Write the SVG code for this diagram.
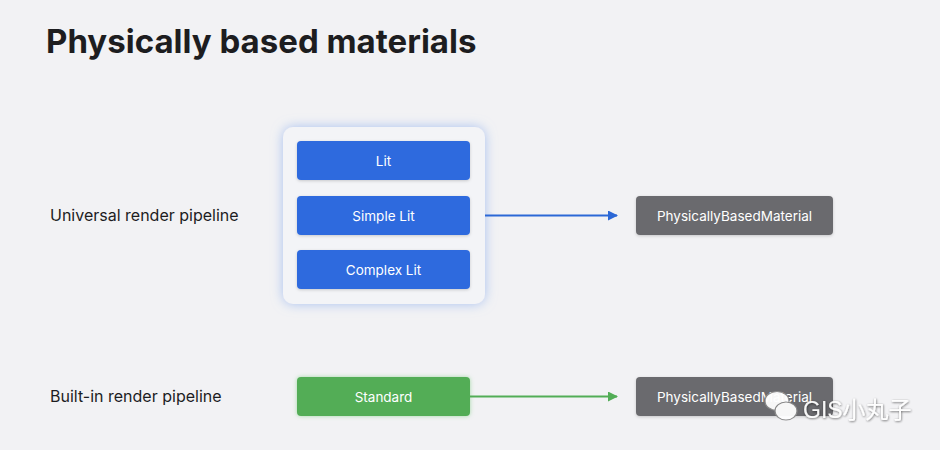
<svg xmlns="http://www.w3.org/2000/svg" width="940" height="450" viewBox="0 0 940 450">
<defs>
<style>
.t{font-family:Inter,"Liberation Sans",sans-serif}
.lbl{font-family:Inter,"Liberation Sans",sans-serif;font-size:16px;fill:#1d1d1f}
.btxt{font-family:Inter,"Liberation Sans",sans-serif;font-size:13.5px;fill:#ffffff;text-anchor:middle}
.blue{fill:#2d6ade}
.green{fill:#52ad56}
.gray{fill:#6b6b6e}
.bub{fill:#ffffff;stroke:#8a8a8a;stroke-width:1.2}
</style>
<filter id="glow" x="-30%" y="-30%" width="160%" height="160%">
<feDropShadow dx="0" dy="0" stdDeviation="6" flood-color="#8fb0ee" flood-opacity="0.75"/>
</filter>
<filter id="sh" x="-20%" y="-30%" width="140%" height="160%">
<feDropShadow dx="0" dy="1" stdDeviation="1.5" flood-color="#000" flood-opacity="0.18"/>
</filter>
<filter id="gsh" x="-20%" y="-30%" width="140%" height="160%">
<feDropShadow dx="0" dy="0" stdDeviation="2" flood-color="#6fc772" flood-opacity="0.6"/>
</filter>
<filter id="wm" x="-20%" y="-30%" width="140%" height="160%">
<feDropShadow dx="0.5" dy="0.8" stdDeviation="0.8" flood-color="#000" flood-opacity="0.6"/>
</filter>
<marker id="ab" markerWidth="10" markerHeight="10" refX="9" refY="5" orient="auto" markerUnits="userSpaceOnUse">
<path d="M0,0 L10,5 L0,10 Z" fill="#2c68d6"/>
</marker>
<marker id="ag" markerWidth="10" markerHeight="10" refX="9" refY="5" orient="auto" markerUnits="userSpaceOnUse">
<path d="M0,0 L10,5 L0,10 Z" fill="#52ad56"/>
</marker>
</defs>
<rect width="940" height="450" fill="#f2f2f4"/>
<text class="t" x="46" y="53" font-size="33" font-weight="700" fill="#1d1d1f">Physically based materials</text>
<text class="lbl" x="50" y="221">Universal render pipeline</text>
<text class="lbl" x="50" y="402">Built-in render pipeline</text>

<g id="urp-group">
<rect x="283" y="127" width="202" height="177" rx="10" fill="#f3f4f7" filter="url(#glow)"/>
</g>
<g id="lit">
<rect class="blue" x="297" y="141" width="173" height="39" rx="4" filter="url(#sh)"/>
<text class="btxt" x="383.5" y="166">Lit</text>
</g>
<g id="simple-lit">
<rect class="blue" x="297" y="196" width="173" height="39" rx="4" filter="url(#sh)"/>
<text class="btxt" x="383.5" y="221">Simple Lit</text>
</g>
<g id="complex-lit">
<rect class="blue" x="297" y="250" width="173" height="39" rx="4" filter="url(#sh)"/>
<text class="btxt" x="383.5" y="275">Complex Lit</text>
</g>
<g id="pbm-urp">
<rect class="gray" x="636" y="196" width="197" height="39" rx="4" filter="url(#sh)"/>
<text class="btxt" x="734.5" y="221">PhysicallyBasedMaterial</text>
</g>
<g id="standard">
<rect class="green" x="297" y="377" width="173" height="39" rx="4" filter="url(#gsh)"/>
<text class="btxt" x="383.5" y="402">Standard</text>
</g>
<g id="pbm-builtin">
<rect class="gray" x="636" y="377" width="197" height="39" rx="4" filter="url(#sh)"/>
<text class="btxt" x="734.5" y="402">PhysicallyBasedMaterial</text>
</g>

<g id="connectors">
<line x1="485" y1="215.5" x2="617" y2="215.5" stroke="#2c68d6" stroke-width="2.2" marker-end="url(#ab)"/>
<line x1="470" y1="396.5" x2="617" y2="396.5" stroke="#52ad56" stroke-width="2.2" marker-end="url(#ag)"/>
</g>

<g id="watermark" opacity="0.95">
<ellipse class="bub" cx="777" cy="401" rx="12" ry="9.5"/>
<ellipse class="bub" cx="786" cy="411" rx="11" ry="9"/>
<text x="803" y="418" font-family="'Liberation Sans','Noto Sans CJK SC',sans-serif" font-size="23" fill="#ffffff" filter="url(#wm)">GIS小丸子</text>
</g>
</svg>
